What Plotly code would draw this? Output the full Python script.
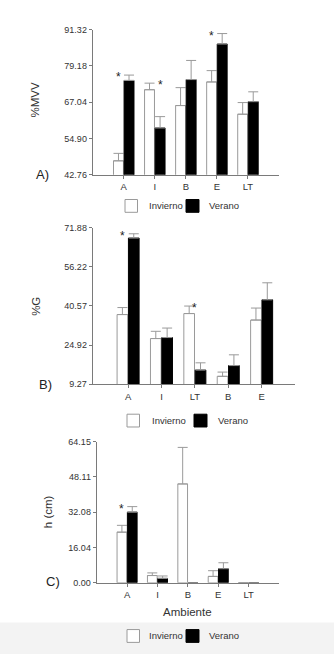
import plotly.graph_objects as go

# ---------------- data ----------------
cats_A = ["A", "I", "B", "E", "LT"]
mvv_inv = [47.4, 71.2, 65.9, 73.8, 63.0]
mvv_inv_err = [2.5, 2.2, 6.0, 3.8, 3.9]
mvv_ver = [74.3, 58.4, 74.6, 86.5, 67.2]
mvv_ver_err = [1.8, 3.8, 6.4, 3.5, 3.3]
ticks_A = [42.76, 54.90, 67.04, 79.18, 91.32]

cats_B = ["A", "I", "LT", "B", "E"]
g_inv = [37.1, 27.5, 37.5, 12.4, 34.9]
g_inv_err = [2.8, 2.9, 3.0, 1.7, 4.8]
g_ver = [67.7, 27.9, 14.9, 16.7, 43.0]
g_ver_err = [1.7, 3.8, 2.9, 4.3, 6.8]
ticks_B = [9.27, 24.92, 40.57, 56.22, 71.88]

cats_C = ["A", "I", "B", "E", "LT"]
h_inv = [23.0, 3.3, 44.9, 2.9, 0.0]
h_inv_err = [3.1, 1.2, 16.6, 2.6, 0.0]
h_ver = [32.1, 2.0, 0.0, 6.4, 0.0]
h_ver_err = [2.5, 1.1, 0.0, 2.7, 0.0]
ticks_C = [0.00, 16.04, 32.08, 48.11, 64.15]

# significance marks: (category index, side: -1 over Invierno, +1 over Verano)
sig_A = [(0, -1), (1, 1), (3, -1)]
sig_B = [(0, -1), (2, -0.1)]
sig_C = [(0, -1)]

series_names = ["Invierno", "Verano"]
y_titles = ["%MVV", "%G", "h (cm)"]
panel_labels = ["A)", "B)", "C)"]
x_title = "Ambiente"

# ---------------- layout constants ----------------
W, H = 334, 659
FONT = "Liberation Sans, Arial, sans-serif"
AX = "#7a7a7a"
INV_LINE = "#9a9a9a"
TXT = "#333"

def px_x(v):
    return v / W

def px_y(v):
    return 1 - v / H

panels = [
    dict(cats=cats_A, inv=mvv_inv, inv_e=mvv_inv_err, ver=mvv_ver, ver_e=mvv_ver_err,
         ticks=ticks_A, sig=sig_A,
         xd=[px_x(92.7), px_x(279)], yd=[px_y(172.3), px_y(25)], xr=[-1, 5],
         ytitle=(35, 97), plabel=(43, 172), legend_y=204, lg=(125, 147, 186, 207)),
    dict(cats=cats_B, inv=g_inv, inv_e=g_inv_err, ver=g_ver, ver_e=g_ver_err,
         ticks=ticks_B, sig=sig_B,
         xd=[px_x(92.7), px_x(295)], yd=[px_y(385), px_y(226)], xr=[-1.06, 5],
         ytitle=(36.5, 306), plabel=(45, 385), legend_y=422, lg=(127, 150, 194, 216)),
    dict(cats=cats_C, inv=h_inv, inv_e=h_inv_err, ver=h_ver, ver_e=h_ver_err,
         ticks=ticks_C, sig=sig_C,
         xd=[px_x(96.7), px_x(279)], yd=[px_y(586.7), px_y(443.3)], xr=[-1, 5],
         ytitle=(48, 515), plabel=(52.7, 585), legend_y=640.7, lg=(127, 147, 186, 207)),
]

fig = go.Figure()
annotations = []
shapes = []

# light grey band at the very bottom of the page
shapes.append(dict(type="rect", xref="paper", yref="paper", x0=0, x1=1,
                   y0=0, y1=px_y(627), fillcolor="#f3f3f3", line=dict(width=0), layer="below"))

BAR_OFF = 0.17

def paper_text(x, y, text, size, color=TXT, xanchor="center", angle=0):
    return dict(x=px_x(x), y=px_y(y), xref="paper", yref="paper", text=text,
                showarrow=False, xanchor=xanchor, yanchor="middle", textangle=angle,
                font=dict(family=FONT, size=size, color=color))

for i, p in enumerate(panels):
    n = "" if i == 0 else str(i + 1)
    xa, ya = "x" + n, "y" + n
    idx = list(range(len(p["cats"])))
    fig.add_trace(go.Bar(
        x=idx, y=p["inv"], name=series_names[0], xaxis=xa, yaxis=ya, showlegend=False,
        marker=dict(color="white", line=dict(color=INV_LINE, width=1)),
        error_y=dict(type="data", array=p["inv_e"], arrayminus=[0] * len(idx),
                     symmetric=False, color=INV_LINE, thickness=1, width=5),
    ))
    fig.add_trace(go.Bar(
        x=idx, y=p["ver"], name=series_names[1], xaxis=xa, yaxis=ya, showlegend=False,
        marker=dict(color="black", line=dict(color="black", width=1)),
        error_y=dict(type="data", array=p["ver_e"], arrayminus=[0] * len(idx),
                     symmetric=False, color=INV_LINE, thickness=1, width=5),
    ))
    lo, hi = p["ticks"][0], p["ticks"][-1]
    fig.layout["xaxis" + n] = dict(
        domain=p["xd"], anchor=ya, range=p["xr"], tickmode="array", tickvals=idx,
        ticktext=p["cats"], showline=True, linecolor=AX, linewidth=1, ticks="outside",
        ticklen=3, tickcolor=AX, showgrid=False, zeroline=False, fixedrange=True,
        tickfont=dict(family=FONT, size=9.5, color=TXT))
    fig.layout["yaxis" + n] = dict(
        domain=p["yd"], anchor=xa, range=[lo, hi], tickmode="array", tickvals=p["ticks"],
        ticktext=["%.2f" % t for t in p["ticks"]], showline=True, linecolor=AX, linewidth=1,
        ticks="outside", ticklen=3, tickcolor=AX, showgrid=False, zeroline=False,
        tickfont=dict(family=FONT, size=9, color=TXT))

    # asterisks, level with the taller error bar of the pair
    for (ci, side) in p["sig"]:
        top = max(p["inv"][ci] + p["inv_e"][ci], p["ver"][ci] + p["ver_e"][ci])
        annotations.append(dict(x=ci + side * BAR_OFF, y=top, xref=xa, yref=ya, text="*",
                                showarrow=False, xanchor="center", yanchor="middle", yshift=-2,
                                font=dict(family=FONT, size=12, color="#222")))
    tx, ty = p["ytitle"]
    annotations.append(paper_text(tx, ty, y_titles[i], 11.5, angle=-90))
    lx, ly = p["plabel"]
    annotations.append(paper_text(lx, ly, panel_labels[i], 13, color="#222"))
    # legend
    sq1, t1, sq2, t2 = p["lg"]
    cy = p["legend_y"]
    shapes.append(dict(type="rect", xref="paper", yref="paper",
                       x0=px_x(sq1), x1=px_x(sq1 + 12.5), y0=px_y(cy + 6.5), y1=px_y(cy - 6.5),
                       fillcolor="white", line=dict(color=INV_LINE, width=1)))
    shapes.append(dict(type="rect", xref="paper", yref="paper",
                       x0=px_x(sq2), x1=px_x(sq2 + 13), y0=px_y(cy + 6.5), y1=px_y(cy - 6.5),
                       fillcolor="black", line=dict(color="black", width=1)))
    annotations.append(paper_text(t1, cy, series_names[0], 9.5, xanchor="left"))
    annotations.append(paper_text(t2, cy, series_names[1], 9.5, xanchor="left"))

annotations.append(paper_text(187.7, 616, x_title, 11.5))

fig.update_layout(
    width=W, height=H, margin=dict(l=0, r=0, t=0, b=0),
    paper_bgcolor="white", plot_bgcolor="white",
    barmode="group", bargap=0.32, bargroupgap=0.06,
    showlegend=False, annotations=annotations, shapes=shapes,
    font=dict(family=FONT),
)

fig.write_html("out.html", config={"displayModeBar": False})

# remove the browser's default page margin so the figure sits at the window's corner
with open("out.html", encoding="utf-8") as f:
    html = f.read()
html = html.replace("<head>", "<head><style>html,body{margin:0;padding:0;overflow:hidden}</style>", 1)
with open("out.html", "w", encoding="utf-8") as f:
    f.write(html)
